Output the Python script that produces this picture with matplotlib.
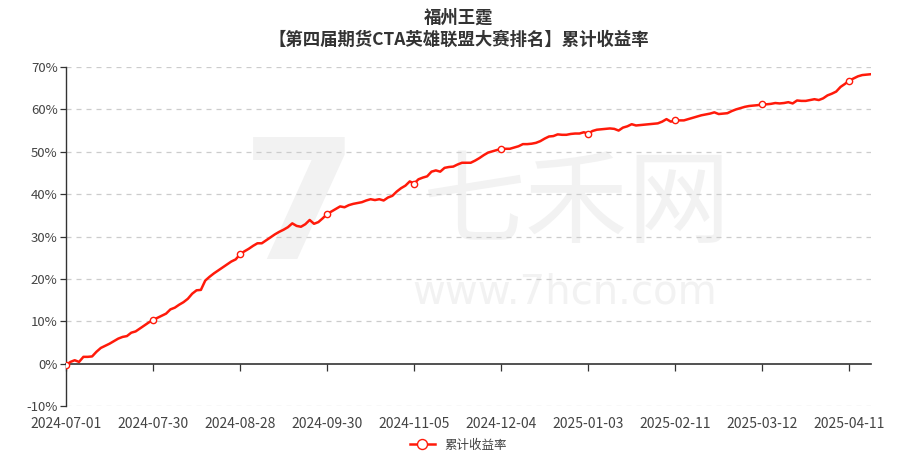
import matplotlib
matplotlib.use("Agg")
import matplotlib.pyplot as plt
import numpy as np

plt.rcParams['font.family'] = ['Noto Sans CJK SC', 'DejaVu Sans']

# 累计收益率 (%), one value per trading day
returns = [
    -0.4, 0.4, 0.8, 0.4, 1.6, 1.6, 1.7, 2.8, 3.7, 4.2,
    4.7, 5.3, 5.9, 6.3, 6.5, 7.3, 7.6, 8.3, 9.0, 9.7,
    10.3, 10.8, 11.3, 11.8, 12.8, 13.2, 13.9, 14.5, 15.3, 16.5,
    17.3, 17.4, 19.6, 20.5, 21.3, 22.0, 22.7, 23.4, 24.1, 24.6,
    25.8, 26.5, 27.1, 27.8, 28.4, 28.4, 29.1, 29.8, 30.5, 31.1,
    31.6, 32.2, 33.1, 32.5, 32.3, 32.9, 33.9, 33.0, 33.4, 34.3,
    35.3, 35.9, 36.5, 37.1, 36.9, 37.4, 37.7, 37.9, 38.1, 38.5,
    38.8, 38.6, 38.8, 38.5, 39.2, 39.6, 40.6, 41.4, 42.0, 43.0,
    42.5, 43.5, 43.9, 44.2, 45.3, 45.6, 45.3, 46.2, 46.4, 46.5,
    47.0, 47.4, 47.4, 47.4, 47.9, 48.5, 49.2, 49.8, 50.1, 50.4,
    50.7, 50.7, 50.7, 51.0, 51.3, 51.8, 51.8, 51.9, 52.1, 52.5,
    53.1, 53.6, 53.7, 54.1, 54.0, 54.0, 54.2, 54.3, 54.3, 54.6,
    54.3, 54.9, 55.2, 55.3, 55.4, 55.5, 55.4, 55.0, 55.7, 56.0,
    56.5, 56.2, 56.3, 56.4, 56.5, 56.6, 56.7, 57.1, 57.7, 57.1,
    57.4, 57.4, 57.4, 57.7, 58.0, 58.3, 58.6, 58.8, 59.0, 59.3,
    58.9, 59.0, 59.1, 59.6, 60.0, 60.3, 60.6, 60.8, 60.9, 61.0,
    61.2, 61.2, 61.3, 61.5, 61.4, 61.5, 61.7, 61.4, 62.1, 62.0,
    62.0, 62.2, 62.4, 62.2, 62.6, 63.3, 63.7, 64.2, 65.3, 66.0,
    66.8, 67.3, 67.8, 68.1, 68.2, 68.3,
]

tick_labels = ['2024-07-01', '2024-07-30', '2024-08-28', '2024-09-30', '2024-11-05',
               '2024-12-04', '2025-01-03', '2025-02-11', '2025-03-12', '2025-04-11']
tick_step = 20
y_ticks = [-10, 0, 10, 20, 30, 40, 50, 60, 70]

red = '#ff1a0a'
txt = '#444444'
wm = '#f2f2f2'

fig = plt.figure(figsize=(9.17, 4.68), dpi=100)
ax = fig.add_axes([66 / 917, 1 - 406 / 468, (871 - 66) / 917, (406 - 67) / 468])

x = np.arange(len(returns))

# watermark
ax.text(0.29, 0.57, '7', transform=ax.transAxes, fontsize=120, color=wm, fontweight='bold',
        ha='center', va='center', family='DejaVu Sans', zorder=0)
ax.text(0.635, 0.59, '七禾网', transform=ax.transAxes, fontsize=74, color=wm,
        ha='center', va='center', zorder=0)
ax.text(0.62, 0.335, 'www.7hcn.com', transform=ax.transAxes, fontsize=29, color=wm,
        ha='center', va='center', family='DejaVu Sans', zorder=0)

ax.plot(x, returns, color=red, lw=1.8, marker='o', markevery=tick_step, markersize=4.5,
        markerfacecolor='white', markeredgecolor=red, markeredgewidth=1.0,
        label='累计收益率', zorder=3)

ax.set_xlim(0, len(returns) - 1)
ax.set_ylim(-10, 70)
ax.set_yticks(y_ticks)
ax.set_yticklabels([f'{v}%' for v in y_ticks])
ax.grid(axis='y', color='#cccccc', linestyle=(0, (4, 4)), linewidth=0.9)
ax.yaxis.get_gridlines()[y_ticks.index(0)].set_visible(False)
ax.set_axisbelow(True)

tick_pos = np.arange(len(tick_labels)) * tick_step
ax.set_xticks(tick_pos)
ax.set_xticklabels(tick_labels)
ax.tick_params(axis='x', length=0, pad=8, labelsize=10, labelcolor=txt)
ax.tick_params(axis='y', length=4, width=0.9, color='#333333', labelsize=9.5, labelcolor=txt, pad=2)

for s in ['top', 'right', 'bottom']:
    ax.spines[s].set_visible(False)
ax.spines['left'].set_color('#333333')
ax.spines['left'].set_linewidth(1.0)

# axis line with ticks sits on the 0% level
sec = ax.secondary_xaxis(10 / 80)
sec.set_xticks(tick_pos)
sec.set_xticklabels([])
sec.tick_params(axis='x', length=5, width=0.9, color='#333333', direction='out')
sec.spines['bottom'].set_color('#333333')
sec.spines['bottom'].set_linewidth(1.2)

fig.text(0.5, 1 - 18 / 468, '福州王霆', ha='center', va='center', fontsize=12.5,
         fontweight='bold', color='#333333')
fig.text(0.5, 1 - 40 / 468, '【第四届期货CTA英雄联盟大赛排名】累计收益率', ha='center', va='center',
         fontsize=12.5, fontweight='bold', color='#333333')

leg = fig.legend(loc='center', bbox_to_anchor=(0.5, 1 - 445 / 468), frameon=False,
                 fontsize=9, handlelength=2.0, markerscale=1.6)
for t in leg.get_texts():
    t.set_color(txt)

fig.savefig('out.png', dpi=100)
